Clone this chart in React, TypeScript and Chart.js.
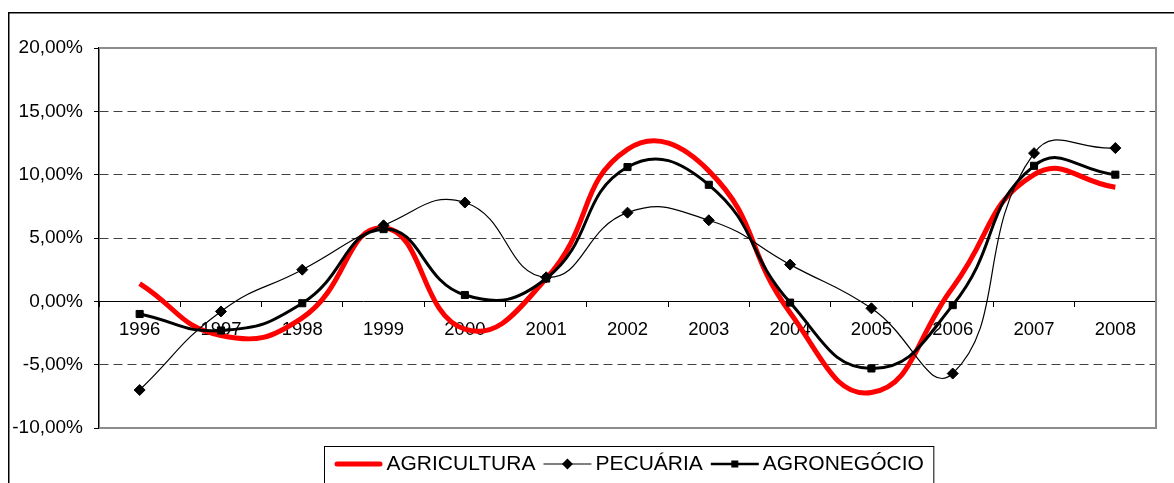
import React, { useEffect, useRef } from 'react';
import { Chart, registerables } from 'chart.js';

Chart.register(...registerables);

const YEARS = ['1996', '1997', '1998', '1999', '2000', '2001', '2002', '2003', '2004', '2005', '2006', '2007', '2008'];
const AGRICULTURA = [1.4, -2.7, -1.3, 5.8, -2.2, 1.8, 12.0, 10.3, -0.9, -7.2, 1.1, 10.0, 9.0];
const PECUARIA = [-7.0, -0.8, 2.5, 6.0, 7.8, 1.9, 7.0, 6.4, 2.9, -0.55, -5.7, 11.7, 12.1];
const AGRONEGOCIO = [-1.0, -2.3, -0.15, 5.7, 0.5, 1.8, 10.6, 9.2, -0.1, -5.3, -0.3, 10.7, 10.0];
const SERIES_NAMES = ['AGRICULTURA', 'PECUÁRIA', 'AGRONEGÓCIO'];
const Y_MIN = -10;
const Y_MAX = 20;
const Y_STEP = 5;

const FONT = '"Liberation Sans", Arial, sans-serif';
const TENSION = 0.48;

const fmtPct = (v: number) => v.toFixed(2).replace('.', ',') + '%';

const decorPlugin = {
  id: 'decor',
  beforeDraw(chart: any) {
    const ctx = chart.ctx;
    ctx.save();
    ctx.fillStyle = '#ffffff';
    ctx.fillRect(0, 0, chart.width, chart.height);
    ctx.strokeStyle = '#000000';
    ctx.lineWidth = 1.5;
    ctx.strokeRect(8.75, 12.75, chart.width + 100, chart.height + 100);
    ctx.restore();
  },
  beforeDatasetsDraw(chart: any) {
    const { left, top, right, bottom } = chart.chartArea;
    const ctx = chart.ctx;
    ctx.save();
    ctx.strokeStyle = '#8c8c8c';
    ctx.lineWidth = 2;
    ctx.beginPath();
    ctx.moveTo(left, top);
    ctx.lineTo(right, top);
    ctx.lineTo(right, bottom);
    ctx.lineTo(left, bottom);
    ctx.stroke();
    ctx.restore();
  },
  afterDraw(chart: any) {
    const ctx = chart.ctx;
    const { left, right } = chart.chartArea;
    const datasets = chart.data.datasets;
    ctx.save();
    ctx.font = '21px ' + FONT;
    const sample = 48;
    const gap = 4;
    const itemGap = 8;
    const pad = 10;
    const widths = datasets.map((d: any) => ctx.measureText(d.label).width);
    let total = 0;
    widths.forEach((w: number, i: number) => {
      total += sample + gap + w + (i > 0 ? itemGap : 0);
    });
    const cx = (left + right) / 2 + 1;
    const boxLeft = Math.round(cx - total / 2 - pad) + 0.5;
    const boxTop = 446.5;
    ctx.strokeStyle = '#000000';
    ctx.lineWidth = 1;
    ctx.strokeRect(boxLeft, boxTop, total + pad * 2, 100);
    const cy = 464;
    let x = boxLeft + pad;
    datasets.forEach((d: any, i: number) => {
      ctx.save();
      ctx.strokeStyle = d.borderColor;
      ctx.lineWidth = d.legendLineWidth;
      ctx.lineCap = d.legendLineWidth > 3 ? 'round' : 'butt';
      ctx.beginPath();
      const inset = d.legendLineWidth > 3 ? 2.5 : 0;
      ctx.moveTo(x + inset, cy);
      ctx.lineTo(x + sample - inset, cy);
      ctx.stroke();
      const mx = x + sample / 2;
      ctx.fillStyle = d.pointBackgroundColor || d.borderColor;
      if (d.pointStyle === 'rectRot' && d.pointRadius > 0) {
        const r = 5.5;
        ctx.beginPath();
        ctx.moveTo(mx, cy - r);
        ctx.lineTo(mx + r, cy);
        ctx.lineTo(mx, cy + r);
        ctx.lineTo(mx - r, cy);
        ctx.closePath();
        ctx.fill();
      } else if (d.pointStyle === 'rect' && d.pointRadius > 0) {
        ctx.fillRect(mx - 3.5, cy - 3.5, 7, 7);
      }
      ctx.restore();
      x += sample + gap;
      ctx.fillStyle = '#000000';
      ctx.textBaseline = 'middle';
      ctx.textAlign = 'left';
      ctx.fillText(d.label, x, cy);
      x += widths[i] + itemGap;
    });
    ctx.restore();
  },
};

export default function App() {
  const ref = useRef<HTMLCanvasElement>(null);

  useEffect(() => {
    if (!ref.current) return;
    const chart = new Chart(ref.current, {
      type: 'line',
      data: {
        labels: YEARS,
        datasets: [
          {
            label: SERIES_NAMES[0],
            data: AGRICULTURA,
            borderColor: '#ff0000',
            backgroundColor: '#ff0000',
            borderWidth: 5,
            pointRadius: 0,
            tension: TENSION,
            order: 3,
            legendLineWidth: 5,
          } as any,
          {
            label: SERIES_NAMES[1],
            data: PECUARIA,
            borderColor: '#000000',
            backgroundColor: '#000000',
            borderWidth: 1.2,
            pointStyle: 'rectRot',
            pointRadius: 5.5,
            pointBackgroundColor: '#000000',
            pointBorderColor: '#000000',
            pointBorderWidth: 1,
            tension: TENSION,
            order: 2,
            legendLineWidth: 1.2,
          } as any,
          {
            label: SERIES_NAMES[2],
            data: AGRONEGOCIO,
            borderColor: '#000000',
            backgroundColor: '#000000',
            borderWidth: 3,
            pointStyle: 'rect',
            pointRadius: 5,
            pointBackgroundColor: '#000000',
            pointBorderColor: '#000000',
            pointBorderWidth: 1,
            tension: TENSION,
            order: 1,
            legendLineWidth: 2.5,
          } as any,
        ],
      },
      options: {
        responsive: false,
        animation: false,
        devicePixelRatio: 1,
        layout: { padding: { top: 48, right: 18, bottom: 55, left: 0 } },
        plugins: {
          legend: { display: false },
          tooltip: { enabled: false },
        },
        scales: {
          x: {
            type: 'category',
            position: { y: 0 } as any,
            offset: true,
            grid: {
              offset: true,
              drawOnChartArea: false,
              drawTicks: true,
              tickLength: 5,
              tickColor: '#000000',
              tickWidth: 1,
            },
            border: { display: true, color: '#000000', width: 1 },
            ticks: {
              color: '#000000',
              font: { family: FONT, size: 18.5 },
              padding: 12,
              maxRotation: 0,
              autoSkip: false,
            },
          },
          y: {
            min: Y_MIN,
            max: Y_MAX,
            afterFit: (scale: any) => {
              scale.width = 99;
            },
            ticks: {
              stepSize: Y_STEP,
              color: '#000000',
              font: { family: FONT, size: 19 },
              padding: 11,
              callback: (v: any) => fmtPct(Number(v)),
            },
            grid: {
              color: (c: any) => {
                const v = c.tick ? c.tick.value : null;
                if (v === 0 || v === Y_MAX || v === Y_MIN) return 'rgba(0,0,0,0)';
                return '#404040';
              },
              tickColor: '#000000',
              tickLength: 5,
              tickWidth: 1,
              tickBorderDash: [],
              lineWidth: 1,
            },
            border: { display: true, color: '#000000', width: 1.5, dash: [9, 5] },
          },
        },
      },
      plugins: [decorPlugin],
    });
    return () => chart.destroy();
  }, []);

  return (
    <div
      style={{
        position: 'fixed',
        left: 0,
        top: 0,
        width: 1174,
        height: 483,
        overflow: 'hidden',
        background: '#ffffff',
      }}
    >
      <canvas ref={ref} width={1174} height={483} style={{ display: 'block' }} />
    </div>
  );
}
